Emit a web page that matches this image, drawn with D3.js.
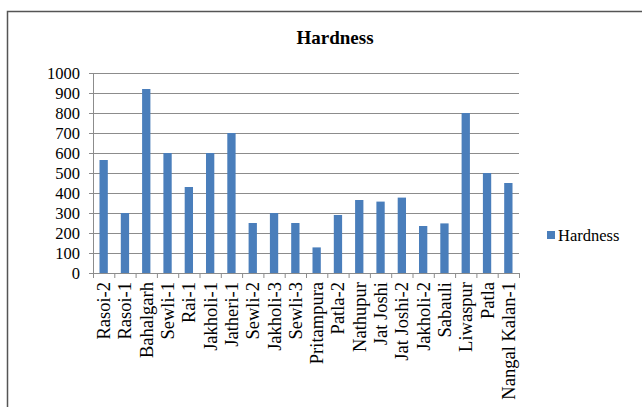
<!DOCTYPE html>
<html>
<head>
  <meta charset="utf-8">
  <title>Hardness</title>
  <script src="https://cdn.jsdelivr.net/npm/d3@7"></script>
  <style>
    body { margin: 0; background: #fff; }
    svg text { font-family: "Liberation Serif", "Times New Roman", serif !important; fill: #000; }
  </style>
</head>
<body>
  <script>
  // Daten
  var orte = ["Rasoi-2", "Rasoi-1", "Bahalgarh", "Sewli-1", "Rai-1", "Jakholi-1", "Jatheri-1",
              "Sewli-2", "Jakholi-3", "Sewli-3", "Pritampura", "Patla-2", "Nathupur", "Jat Joshi",
              "Jat Joshi-2", "Jakholi-2", "Sabauli", "Liwaspur", "Patla", "Nangal Kalan-1"];
  var haerte = [565, 300, 920, 600, 430, 600, 700, 250, 300, 250, 128, 290, 365, 357,
                377, 235, 248, 800, 500, 450];
  var yTicks = [0, 100, 200, 300, 400, 500, 600, 700, 800, 900, 1000];
  var serie = "Hardness";

  var breite = 642, hoehe = 407;
  var links = 93, rechts = 519, oben = 73, unten = 273;

  var svg = d3.select("body").append("svg")
      .attr("width", breite)
      .attr("height", hoehe)
      .attr("font-family", "Liberation Serif");

  // Rahmen
  svg.append("rect")
     .attr("x", 7.5).attr("y", 11.5)
     .attr("width", 660).attr("height", 420)
     .attr("fill", "none")
     .attr("stroke", "#555")
     .attr("stroke-width", 1.5);

  var x = d3.scaleBand().domain(orte).range([links, rechts]).paddingInner(0.61).paddingOuter(0.305);
  var xTick = d3.scaleLinear().domain([0, orte.length]).range([links, rechts]);
  var y = d3.scaleLinear().domain([0, 1000]).range([unten, oben]);

  // Gitterlinien
  svg.append("g").selectAll("line")
     .data(yTicks.slice(1))
     .enter().append("line")
     .attr("x1", links).attr("x2", rechts)
     .attr("y1", function(d) { return Math.round(y(d)) + 0.5; })
     .attr("y2", function(d) { return Math.round(y(d)) + 0.5; })
     .attr("stroke", "#8c8c8c");

  // Balken
  svg.append("g").selectAll("rect")
     .data(haerte)
     .enter().append("rect")
     .attr("x", function(d, i) { return x(orte[i]); })
     .attr("width", x.bandwidth())
     .attr("y", function(d) { return y(d); })
     .attr("height", function(d) { return y(0) - y(d); })
     .attr("fill", "#4a7ebb");

  // Y-Achse
  var yAchse = svg.append("g")
     .attr("transform", "translate(" + links + ",0)")
     .call(d3.axisLeft(y).tickValues(yTicks).tickSize(4).tickPadding(9).tickFormat(d3.format("d")));
  yAchse.attr("font-family", "Liberation Serif").attr("font-size", 16.5);
  yAchse.selectAll("line, path").attr("stroke", "#8c8c8c");

  // X-Achse
  var xAchse = svg.append("g")
     .attr("transform", "translate(0," + unten + ")")
     .call(d3.axisBottom(xTick).tickValues(d3.range(orte.length + 1)).tickSize(5).tickFormat(""));
  xAchse.select("path").remove();
  xAchse.selectAll("line").attr("stroke", "#8c8c8c");
  svg.append("line")
     .attr("x1", links).attr("x2", rechts)
     .attr("y1", unten + 0.5).attr("y2", unten + 0.5)
     .attr("stroke", "#8c8c8c");

  // Beschriftung der Kategorien
  svg.append("g").selectAll("text")
     .data(orte)
     .enter().append("text")
     .attr("transform", function(d) {
        return "translate(" + (x(d) + x.bandwidth() / 2 + 6.5) + "," + (unten + 9) + ") rotate(-90)";
     })
     .attr("text-anchor", "end")
     .style("font-size", "18.5px")
     .text(function(d) { return d; });

  // Titel
  svg.append("text")
     .attr("x", 335).attr("y", 44)
     .attr("text-anchor", "middle")
     .style("font-size", "19px")
     .style("font-weight", "bold")
     .text(serie);

  // Legende
  svg.append("rect")
     .attr("x", 547).attr("y", 231)
     .attr("width", 8).attr("height", 8)
     .attr("fill", "#4a7ebb");
  svg.append("text")
     .attr("x", 558).attr("y", 241)
     .style("font-size", "16.5px")
     .text(serie);
  </script>
</body>
</html>
